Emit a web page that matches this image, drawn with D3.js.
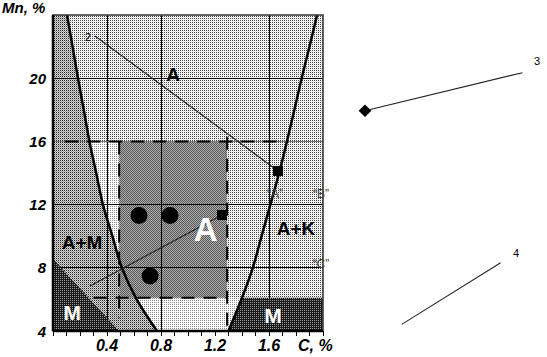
<!DOCTYPE html>
<html><head><meta charset="utf-8">
<script src="https://cdn.jsdelivr.net/npm/d3@7"></script>
<style>
html,body{margin:0;padding:0;background:#fff;}
svg{display:block;}
text{font-family:"Liberation Sans",Arial,sans-serif;}
</style></head>
<body><div id="chart"></div>
<script>
// ---- data (C, % ; Mn, %) ----
const xTickValues = [0.4, 0.8, 1.2, 1.6];
const xTickLabels = ["0.4", "0.8", "1.2", "1.6"];
const yTickValues = [4, 8, 12, 16, 20];
const yTickLabels = ["4", "8", "12", "16", "20"];
const xGridValues = [0.4, 0.8, 1.6];
const yGridValues = [8, 12, 16, 20];
const minorTicks = d3.range(0, 21).map(i => i / 10);

// left boundary (A+M | A)
const leftCurve = [[0.104,24],[0.145,22],[0.185,20],[0.228,18],[0.27,16],[0.32,14],[0.37,12],[0.44,10],[0.51,8],[0.62,6],[0.77,4]];
// right boundary (A | A+K)
const rightCurve = [[1.956,24],[1.90,22],[1.842,20],[1.788,18],[1.733,16],[1.675,14],[1.61,12],[1.545,10],[1.48,8],[1.40,6.1],[1.30,4]];
// martensite region (left) corners
const mLeft = [[0,8.55],[0.49,4],[0,4]];
// martensite region (right): right of curve below 6.1
const mRightTop = 6.1;
// shaded composition window
const boxC = [0.49, 1.29];
const boxMn = [6.1, 16];

// points
const circles = [[0.637,11.31],[0.867,11.31],[0.719,7.48]];
const squares = [[1.667,14.13],[1.252,11.34]];
const diamonds = [[2.311,17.94]];

// leader lines [from, to] and labels
const leaders = [
  [[0.311,22.67],[1.667,14.13]],
  [[0.274,6.85],[1.252,11.34]],
  [[2.311,17.94],[3.477,20.35]],
  [[2.583,4.42],[3.316,8.32]]
];
const leaderLabels = [["2",0.259,22.35],["3",3.585,20.84],["4",3.43,8.68]];

const regionLabels = [
  {t:"A", c:0.89, m:19.8, size:19, fill:"#000"},
  {t:"A+K", c:1.80, m:10.1, size:19, fill:"#000"},
  {t:"A+M", c:0.215, m:9.2, size:19, fill:"#000"},
  {t:"A", c:1.13, m:9.7, size:33, fill:"#fff"},
  {t:"M", c:0.142, m:4.7, size:21, fill:"#fff"},
  {t:"M", c:1.63, m:4.5, size:21, fill:"#fff"}
];
const quoteLabels = [["\u201CA\u201D",1.644,12.42],["\u201CB\u201D",1.985,12.42],["\u201CC\u201D",1.985,7.99]];

// ---- drawing ----
const W = 547, H = 357;
const svg = d3.select("#chart").append("svg").attr("width", W).attr("height", H);
const x = d3.scaleLinear().domain([0, 2]).range([53, 323]);
const y = d3.scaleLinear().domain([4, 24]).range([331, 15]);

const defs = svg.append("defs");
function pat(id, bg, cells) {
  const p = defs.append("pattern").attr("id", id).attr("width", 2).attr("height", 2)
    .attr("patternUnits", "userSpaceOnUse");
  p.append("rect").attr("width", 2).attr("height", 2).attr("fill", bg);
  cells.forEach(([cx, cy, col]) => p.append("rect").attr("x", cx).attr("y", cy).attr("width", 1).attr("height", 1).attr("fill", col));
}
pat("pA", "#fff", [[0,0,"#444"],[1,1,"#e8e8e8"]]);
pat("pAM", "#d8d8d8", [[0,0,"#222"],[1,1,"#999"]]);
pat("pL", "#fff", [[0,0,"#8a8a8a"]]);
pat("pBox", "#b0b0b0", [[0,0,"#555"],[1,1,"#555"]]);
pat("pM", "#1a1a1a", [[0,0,"#9a9a9a"]]);

const g = svg.append("g");
const line = d3.line().x(d => x(d[0])).y(d => y(d[1]));
const poly = pts => line(pts) + "Z";

// background A
g.append("rect").attr("x", x(0)).attr("y", y(24)).attr("width", x(2) - x(0)).attr("height", y(4) - y(24)).attr("fill", "url(#pA)");
// A+M region
g.append("path").attr("d", poly([[0,24], ...leftCurve, [0,4]])).attr("fill", "url(#pAM)");
// light band (between curves below 16, outside box)
const lcBelow = leftCurve.filter(p => p[1] <= 16);
const rcBelow = rightCurve.filter(p => p[1] <= mRightTop);
g.append("path").attr("d", poly([[boxC[0],16],[boxC[0],boxMn[0]], ...rcBelow, ...lcBelow.slice().reverse()])).attr("fill", "url(#pL)");
// box
g.append("rect").attr("x", x(boxC[0])).attr("y", y(boxMn[1])).attr("width", x(boxC[1]) - x(boxC[0]))
  .attr("height", y(boxMn[0]) - y(boxMn[1])).attr("fill", "url(#pBox)");

// grid
g.selectAll(".gx").data(xGridValues).join("line").attr("x1", d => x(d)).attr("x2", d => x(d))
  .attr("y1", y(24)).attr("y2", y(4)).attr("stroke", "#000").attr("stroke-width", 1).attr("shape-rendering","crispEdges");
g.selectAll(".gy").data(yGridValues).join("line").attr("y1", d => y(d)).attr("y2", d => y(d))
  .attr("x1", x(0)).attr("x2", x(2)).attr("stroke", d => d === 16 ? "#777" : "#000").attr("stroke-width", 1).attr("shape-rendering","crispEdges");

// M regions
g.append("path").attr("d", poly(mLeft)).attr("fill", "url(#pM)");
g.append("path").attr("d", poly([[2, mRightTop], ...rcBelow, [2, 4]])).attr("fill", "url(#pM)");

// dashed box edges
const dash = {"stroke":"#000","stroke-width":2,"stroke-dasharray":"13,9"};
function dl(a, b) {
  const l = g.append("line").attr("x1", x(a[0])).attr("y1", y(a[1])).attr("x2", x(b[0])).attr("y2", y(b[1]));
  Object.entries(dash).forEach(([k, v]) => l.attr(k, v));
}
dl([0.09,16],[1.66,16]);
dl([boxC[0],16],[boxC[0],4.8]);
dl([boxC[1],16.3],[boxC[1],4]);
dl([0.3,boxMn[0]],[boxC[1],boxMn[0]]);

// boundary curves
const curve = d3.line().x(d => x(d[0])).y(d => y(d[1])).curve(d3.curveCatmullRom);
[leftCurve, rightCurve].forEach(c => g.append("path").attr("d", curve(c)).attr("fill", "none").attr("stroke", "#000").attr("stroke-width", 2.5));

// frame
g.append("rect").attr("x", x(0)).attr("y", y(24)).attr("width", x(2) - x(0)).attr("height", y(4) - y(24))
  .attr("fill", "none").attr("stroke", "#333").attr("stroke-width", 1.5);
g.append("line").attr("x1", x(0)).attr("x2", x(0)).attr("y1", y(24)).attr("y2", y(4)).attr("stroke", "#000").attr("stroke-width", 2.5);
g.append("line").attr("x1", x(0)).attr("x2", x(2)).attr("y1", y(4)).attr("y2", y(4)).attr("stroke", "#000").attr("stroke-width", 2.5);
g.selectAll(".mt").data(minorTicks).join("line").attr("x1", d => x(d)).attr("x2", d => x(d))
  .attr("y1", y(4)).attr("y2", y(4) + 5).attr("stroke", "#000").attr("stroke-width", 1).attr("shape-rendering","crispEdges");

// leader lines
g.selectAll(".ld").data(leaders).join("line")
  .attr("x1", d => x(d[0][0])).attr("y1", d => y(d[0][1])).attr("x2", d => x(d[1][0])).attr("y2", d => y(d[1][1]))
  .attr("stroke", "#222").attr("stroke-width", 1.1);
g.selectAll(".ll").data(leaderLabels).join("text").attr("x", d => x(d[1])).attr("y", d => y(d[2]))
  .attr("text-anchor", "middle").attr("font-size", 11).attr("fill", "#000").text(d => d[0]);

// markers
g.selectAll(".ci").data(circles).join("circle").attr("cx", d => x(d[0])).attr("cy", d => y(d[1])).attr("r", 8.5).attr("fill", "#000");
g.selectAll(".sq").data(squares).join("rect").attr("x", d => x(d[0]) - 5).attr("y", d => y(d[1]) - 5)
  .attr("width", 10).attr("height", 10).attr("fill", "#000");
g.selectAll(".dm").data(diamonds).join("rect").attr("x", -4.5).attr("y", -4.5).attr("width", 9).attr("height", 9)
  .attr("transform", d => `translate(${x(d[0])},${y(d[1])}) rotate(45)`).attr("fill", "#000");

// region labels
g.selectAll(".rl").data(regionLabels).join("text").attr("x", d => x(d.c)).attr("y", d => y(d.m))
  .attr("text-anchor", "middle").attr("font-size", d => d.size).attr("font-weight", "bold").attr("fill", d => d.fill).text(d => d.t);
g.selectAll(".ql").data(quoteLabels).join("text").attr("x", d => x(d[1])).attr("y", d => y(d[2]))
  .attr("text-anchor", "middle").attr("font-size", 12).attr("font-family", "Liberation Serif, serif").attr("fill", "#444").text(d => d[0]);

// tick labels
g.selectAll(".xl").data(xTickValues).join("text").attr("x", d => x(d)).attr("y", 351)
  .attr("text-anchor", "middle").attr("font-size", 16).attr("font-weight", "bold").attr("font-style", "italic").text((d, i) => xTickLabels[i]);
g.selectAll(".yl").data(yTickValues).join("text").attr("x", 46).attr("y", d => y(d) + 5.5)
  .attr("text-anchor", "end").attr("font-size", 15).attr("font-weight", "bold").attr("font-style", "italic").text((d, i) => yTickLabels[i]);
g.append("text").attr("x", 2).attr("y", 13).attr("font-size", 15).attr("font-weight", "bold").attr("font-style", "italic").text("Mn, %");
g.append("text").attr("x", 298).attr("y", 351).attr("font-size", 16).attr("font-weight", "bold").attr("font-style", "italic").text("C, %");
</script></body></html>
